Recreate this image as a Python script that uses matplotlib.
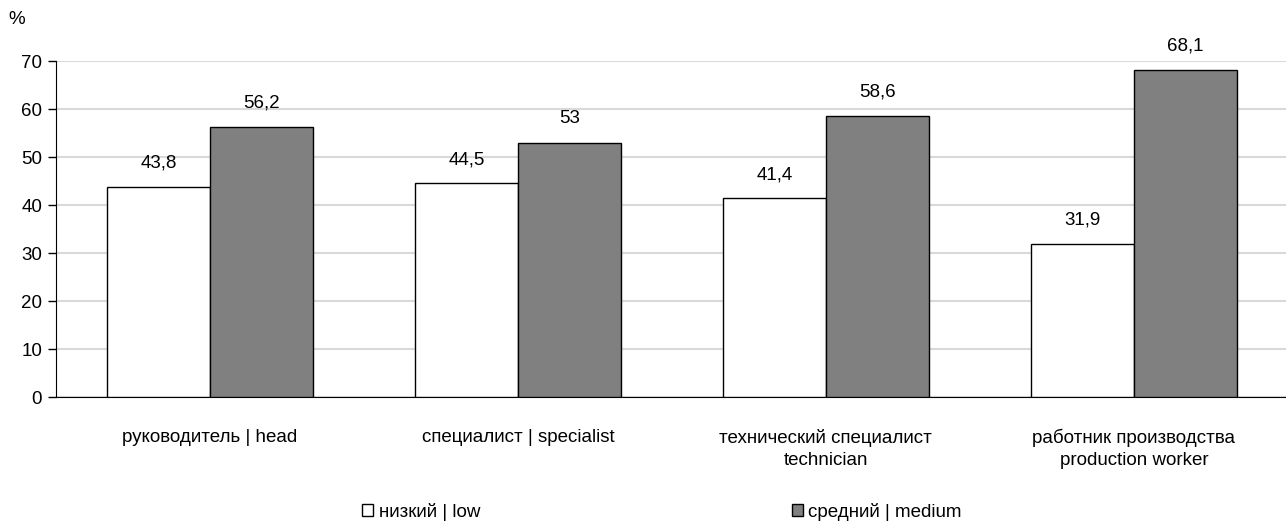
import matplotlib.pyplot as plt
import numpy as np

plt.rcParams['font.family'] = ['Liberation Sans', 'DejaVu Sans']

categories = ['руководитель | head', 'специалист | specialist',
              'технический специалист\ntechnician',
              'работник производства\nproduction worker']
low = [43.8, 44.5, 41.4, 31.9]
medium = [56.2, 53.0, 58.6, 68.1]
series_names = ['низкий | low', 'средний | medium']
y_ticks = [0, 10, 20, 30, 40, 50, 60, 70]

FS = 13.5


def fmt(v):
    s = ('%.1f' % v).rstrip('0').rstrip('.')
    return s.replace('.', ',')


fig = plt.figure(figsize=(12.86, 5.23), dpi=100)
ax = fig.add_axes([56 / 1286, 1 - 397 / 523, 1 - 56 / 1286, (397 - 61) / 523])

x = np.arange(len(categories))
w = 0.334
b1 = ax.bar(x - w / 2, low, w, color='white', edgecolor='black', linewidth=1,
            label=series_names[0], zorder=3)
b2 = ax.bar(x + w / 2, medium, w, color='#808080', edgecolor='black', linewidth=1,
            label=series_names[1], zorder=3)

# value labels above each bar, decimal comma
for bars, vals in ((b1, low), (b2, medium)):
    for r, v in zip(bars, vals):
        ax.annotate(fmt(v), (r.get_x() + r.get_width() / 2, v),
                    xytext=(0, 11), textcoords='offset points',
                    ha='center', va='bottom', fontsize=FS)

ax.set_ylim(0, 70)
ax.set_xlim(-0.5, 3.494)
ax.set_yticks(y_ticks)
ax.tick_params(axis='y', length=6, width=1, labelsize=FS, pad=4)
ax.set_xticks(x)
ax.set_xticklabels(categories, fontsize=FS, linespacing=1.4)
ax.tick_params(axis='x', length=0, pad=23)
ax.yaxis.grid(True, color='#d9d9d9', linewidth=1.5, zorder=0)
ax.set_axisbelow(True)
for s in ('top', 'right'):
    ax.spines[s].set_visible(False)
ax.spines['left'].set_color('black')
ax.spines['bottom'].set_color('black')

fig.text(17 / 1286, 1 - 19 / 523, '%', fontsize=FS, ha='center', va='center')

fig.legend(handles=[b1, b2], loc='center', bbox_to_anchor=(662 / 1286, 1 - 512 / 523),
           ncol=2, frameon=False, fontsize=FS, handlelength=0.6, handleheight=0.6,
           handletextpad=0.3, columnspacing=16.6)

fig.savefig('out.png', dpi=100)
